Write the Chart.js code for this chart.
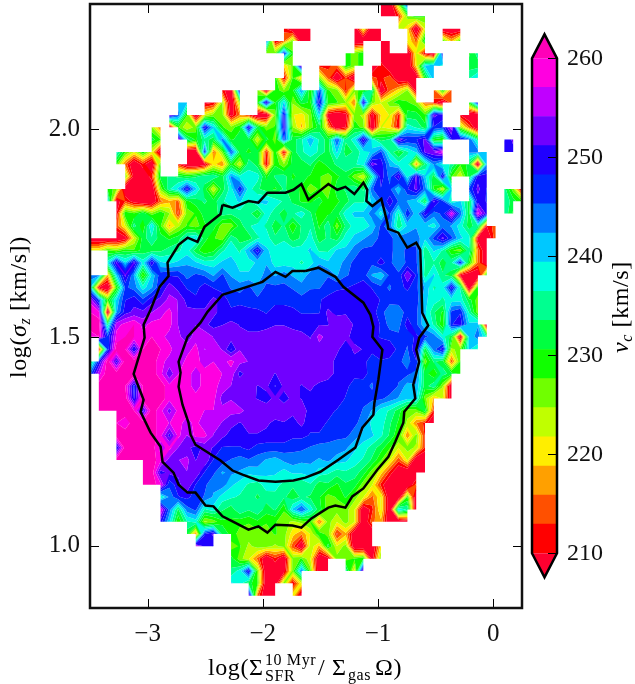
<!DOCTYPE html>
<html><head><meta charset="utf-8">
<style>html,body{margin:0;padding:0;background:#fff}#a,#b{position:absolute;top:0}#a{left:0}#b{left:525px}</style>
<script src="https://cdn.jsdelivr.net/npm/chart.js@4"></script></head>
<body><canvas id="a" width="635" height="684"></canvas><canvas id="b" width="110" height="684"></canvas>
<script>
const _=null;
const xTicks=[-3,-2,-1,0], yTicks=[1.0,1.5,2.0], cbTicks=[210,220,230,240,250,260];
const xRange=[-3.5,0.25], yRange=[0.85,2.3];
const levels=[210,212.94,215.88,218.82,221.76,224.71,227.65,230.59,233.53,236.47,239.41,242.35,245.29,248.24,251.18,254.12,257.06,260];
const bandColors=['#ff0000','#ff5000','#ffa000','#ffee00','#c0ff00','#70ff00','#10ff00','#00ff40','#00ff90','#00ffdd','#00c8ff','#0078ff','#0028ff','#2000ff','#7000ff','#c000ff','#ff00e0'];
const underColor='#ff0030', overColor='#ff00b8';
// first column index of each row, row 0 = top of the plot
const rowStart=[33,33,22,20,20,22,21,15,10,9,7,7,3,3,4,2,2,3,3,0,0,0,0,0,0,0,0,0,0,0,0,1,1,1,3,3,3,3,6,6,8,8,8,11,12,16,16,16,18];
const vc=[
[205,205,225,248],
[205,205,212,226,230,228],
[212,205,205,205,_,_,_,_,205,222,205,205,_,224,220,205,222,_,205,205,205],
[245,210,215,226,205,205,_,_,_,_,205,205,205,205,205,_,222,215,232,_,228,218,228],
[226,226,248,228,_,_,_,_,_,230,226,230,_,205,205,205,205,222,210,205,250,_,_,230,235],
[219,226,255,_,212,212,215,230,226,230,205,212,205,205,205,220,240,242,238,_,_,232,232],
[230,210,228,218,_,226,215,205,213,205,_,214,212,215,205,205,205,230,242,_,_,_,236,240],
[212,205,252,_,226,205,230,225,230,243,228,246,228,226,212,226,230,235,205,215,220,225,208,_,215,230,215],
[240,240,_,208,210,225,205,225,_,230,252,230,240,225,232,230,250,230,228,225,215,250,226,222,226,230,228,226,215,212,205,215,_,230,250],
[255,245,228,205,222,226,226,208,216,212,205,205,226,249,222,220,226,240,208,205,208,226,224,208,219,222,212,232,232,228,252,250,_,210,205,205],
[225,215,205,228,222,226,250,240,228,226,230,250,232,226,228,250,225,218,226,232,218,205,210,230,226,205,222,220,210,238,236,232,248,246,256,225,215,205],
[232,228,_,256,235,230,235,232,244,230,232,232,222,232,226,246,232,236,242,236,232,246,234,238,252,238,232,234,254,248,248,252,230,228,248,250,245,235,_,_,248,252],
[238,228,222,230,222,205,_,_,205,205,248,215,226,246,232,230,232,212,230,210,232,236,238,236,232,240,232,234,238,240,246,236,230,236,240,252,254,258,_,_,243,244,240,_,250,250],
[228,215,205,212,205,228,_,212,205,205,208,220,216,230,222,236,232,210,230,225,232,232,234,228,232,234,236,236,238,253,250,242,238,238,216,234,243,238,236,228,232,205,242],
[226,208,205,212,232,234,233,231,233,236,236,232,243,238,237,238,230,234,235,230,232,230,228,226,230,232,226,222,236,250,244,252,238,252,240,232,250,228,222,232,250,250],
[230,226,205,205,205,205,226,236,240,250,240,232,222,232,238,248,238,234,232,230,234,232,230,226,228,226,232,234,236,233,245,248,246,240,248,252,244,230,222,240,_,246,252,248,_,235,226,208],
[240,208,213,208,205,205,215,218,215,230,232,234,232,236,238,240,236,240,240,238,236,233,230,230,232,228,230,232,236,236,240,245,250,245,242,240,232,252,246,236,240,232,250,248,_,236,232,228],
[210,230,228,233,226,230,225,212,226,228,232,232,235,234,235,235,230,238,235,232,236,238,234,228,230,232,238,240,240,244,238,246,236,248,240,250,244,246,258,244,232,258,250,_,236,230],
[214,222,235,228,240,228,218,224,228,226,230,232,226,226,232,236,238,236,232,234,228,234,236,230,236,226,234,238,238,240,246,244,234,240,242,240,238,244,242,238,232,236,210,215],
[205,205,205,205,208,222,232,236,232,230,232,238,240,232,228,226,236,232,232,236,238,234,236,232,234,238,232,234,232,238,240,242,244,246,246,244,244,244,240,246,252,246,240,238,208,205,215],
[222,222,228,226,230,228,232,232,233,235,236,238,232,228,230,236,238,236,242,250,240,238,238,238,238,240,236,236,240,240,244,246,246,246,246,244,246,246,234,240,236,228,226,236,215,205],
[230,_,238,252,240,252,238,251,240,239,240,242,240,238,238,240,241,238,238,240,242,238,238,238,236,238,242,240,240,244,246,246,246,250,246,243,246,246,236,236,232,236,248,230,215,205],
[244,244,218,240,252,242,227,240,247,248,248,244,246,245,242,246,242,240,240,240,244,242,244,242,240,244,245,245,242,245,246,247,242,240,246,246,254,248,235,240,234,232,210,205,205,230],
[240,210,205,228,246,244,238,242,248,253,250,248,247,250,248,247,245,244,246,243,246,246,246,245,244,245,245,247,248,248,249,250,248,246,245,247,249,246,242,236,238,250,236,205,230],
[256,245,228,240,248,250,246,250,252,255,254,250,249,249,252,250,247,247,247,246,247,247,247,247,246,247,248,249,249,250,250,250,250,248,246,247,246,247,240,238,236,238,238,232,226],
[260,258,206,242,250,252,252,254,256,258,254,252,252,252,252,250,249,250,249,249,248,250,250,249,248,248,248,252,250,251,251,250,250,246,244,243,247,246,240,234,230,246,248,236,226],
[262,262,235,256,258,260,256,258,258,258,254,252,254,252,250,251,252,251,250,250,250,251,251,250,250,250,251,251,254,252,251,250,250,248,244,244,250,246,240,236,228,248,250,240,242,205],
[258,260,246,258,260,260,258,260,258,256,255,252,256,256,254,254,253,252,252,252,253,253,253,253,252,251,255,253,252,252,250,250,249,248,247,246,246,249,246,244,238,232,206,240,244,236],
[_,210,246,262,260,248,260,262,260,258,255,256,258,254,255,254,248,254,253,253,253,254,254,254,254,252,253,252,252,249,252,251,249,250,251,247,245,251,232,244,250,224,226,240,236],
[232,248,262,250,262,262,262,262,258,256,255,258,258,256,257,256,258,255,254,253,253,254,254,254,253,254,254,253,250,250,250,249,247,248,247,246,244,248,226,234,232,214,228],
[244,256,262,262,262,262,262,262,258,252,257,258,256,258,260,257,256,250,253,254,253,251,253,253,252,253,254,253,250,249,249,250,246,248,248,246,246,244,232,228,235,232,230],
[262,262,262,260,247,260,262,262,258,258,258,256,258,258,256,254,254,253,251,252,248,252,252,251,252,250,249,249,249,247,246,245,248,248,245,241,242,232,236,225,205],
[262,262,262,262,248,262,262,262,258,258,258,258,258,258,253,254,252,252,251,250,252,250,252,251,250,250,250,250,248,247,246,246,246,244,242,240,240,226,218,222,206],
[262,262,262,262,260,250,262,258,253,258,258,258,257,257,255,255,255,253,254,253,254,253,252,254,249,249,249,248,247,247,245,242,238,236,232,226,226,232,212],
[260,258,262,262,262,258,257,258,256,258,255,255,254,252,251,252,252,252,250,251,250,252,249,249,248,248,247,246,244,238,238,234,230,224,216,212,205],
[262,262,262,262,262,258,250,258,254,258,258,254,252,250,250,251,251,250,250,250,249,249,248,248,247,246,246,244,241,240,237,233,228,216,226,212],
[248,262,262,262,262,256,258,254,252,250,252,251,248,248,248,249,247,247,247,247,246,246,245,244,244,244,243,240,238,235,232,228,222,226,224,212],
[262,262,262,262,262,258,253,254,255,251,254,248,247,245,244,245,244,242,241,243,244,243,243,242,243,241,240,238,236,233,228,222,214,222,205,205],
[262,262,250,252,252,254,254,248,246,242,243,242,240,241,240,240,238,240,240,241,238,237,235,236,235,232,226,220,212,205,205,205,205],
[262,262,258,246,250,254,248,246,243,244,240,238,236,235,238,237,236,234,234,236,232,233,230,233,232,226,222,212,205,205,205,214],
[236,243,248,249,247,245,242,238,237,236,235,233,235,236,234,232,234,233,231,226,228,231,226,222,215,222,205,205,228,205],
[258,244,233,244,246,236,238,234,232,236,234,236,232,234,228,240,246,238,232,226,226,226,222,205,212,222,205,240,236,205],
[250,240,228,236,238,224,226,230,230,229,228,230,228,228,226,224,226,228,215,226,222,226,222,205,215,218,205,205,208],
[232,215,248,252,232,230,226,226,226,226,228,226,220,216,222,230,226,212,218,205,205,205],
[258,250,248,_,226,228,224,226,226,224,226,214,205,224,218,232,222,226,205,205,205,220],
[232,226,222,215,205,212,205,226,228,222,205,208,226,226,228,230,208,226],
[234,238,250,226,205,205,208,226,244,226,205,205,_,236,220,256],
[240,238,232,228,205,205,226,210,222],
[255,215,205,205,_,222,205]
];
const outerX=[-2.35,-2.263,-2.124,-2.038,-1.96,-1.803,-1.734,-1.665,-1.604,-1.517,-1.431,-1.353,-1.283,-1.205,-1.127,-1.093,-1.101,-1.049,-0.971,-0.919,-0.91,-0.824,-0.746,-0.668,-0.633,-0.616,-0.564,-0.642,-0.668,-0.642,-0.694,-0.676,-0.772,-0.78,-0.85,-0.91,-1.006,-1.127,-1.223,-1.283,-1.37,-1.431,-1.578,-1.665,-1.743,-1.89,-1.96,-2.038,-2.124,-2.263,-2.35,-2.428,-2.497,-2.584,-2.653,-2.731,-2.775,-2.87,-2.887,-2.974,-3.061,-3.035,-3.121,-3.026,-3.035,-2.974,-2.896,-2.818,-2.827,-2.731,-2.653,-2.567,-2.506,-2.367,-2.35];
const outerY=[1.818,1.811,1.827,1.823,1.847,1.847,1.854,1.868,1.83,1.849,1.868,1.854,1.861,1.844,1.871,1.854,1.827,1.815,1.832,1.775,1.76,1.751,1.715,1.727,1.71,1.559,1.528,1.499,1.47,1.441,1.386,1.353,1.321,1.295,1.249,1.213,1.182,1.137,1.118,1.091,1.096,1.091,1.065,1.043,1.048,1.05,1.031,1.046,1.038,1.058,1.07,1.094,1.096,1.127,1.127,1.146,1.175,1.201,1.237,1.271,1.321,1.35,1.412,1.499,1.53,1.566,1.621,1.647,1.679,1.722,1.739,1.729,1.765,1.796,1.818];
const innerX=[-1.63,-1.517,-1.37,-1.301,-1.127,-1.066,-1.04,-1.049,-0.962,-0.997,-1.032,-1.04,-1.136,-1.197,-1.344,-1.5,-1.63,-1.734,-1.89,-2.038,-2.176,-2.263,-2.367,-2.584,-2.627,-2.645,-2.697,-2.731,-2.714,-2.731,-2.653,-2.541,-2.48,-2.35,-2.003,-1.89,-1.803,-1.743,-1.63];
const innerY=[1.659,1.667,1.645,1.621,1.583,1.554,1.525,1.501,1.47,1.398,1.341,1.314,1.283,1.235,1.206,1.177,1.163,1.156,1.153,1.156,1.17,1.18,1.204,1.242,1.266,1.295,1.338,1.381,1.415,1.441,1.501,1.535,1.561,1.602,1.633,1.657,1.645,1.659,1.659];

const SERIF='"Liberation Serif","DejaVu Serif",serif';
const nCols=50,nRows=50;
function node(k,i){const r=vc[k];if(!r)return null;const j=i-rowStart[k];if(j<0||j>=r.length)return null;return r[j];}
function clip(poly,limit,keepAbove){
  const out=[];
  for(let n=0;n<poly.length;n++){
    const a=poly[n],b=poly[(n+1)%poly.length];
    const ia=keepAbove?a[2]>=limit:a[2]<=limit, ib=keepAbove?b[2]>=limit:b[2]<=limit;
    if(ia)out.push(a);
    if(ia!==ib){const t=(limit-a[2])/(b[2]-a[2]);out.push([a[0]+t*(b[0]-a[0]),a[1]+t*(b[1]-a[1]),limit]);}
  }
  return out;
}
const contourPlugin={id:'contour',beforeDatasetsDraw(c){
  const ctx=c.ctx,X=c.scales.x,Y=c.scales.y,A=c.chartArea;
  const px=i=>X.getPixelForValue(xRange[0]+i*(xRange[1]-xRange[0])/(nCols-1));
  const py=k=>Y.getPixelForValue(yRange[1]-k*(yRange[1]-yRange[0])/(nRows-1));
  const lows=[-1e9,...levels],highs=[...levels,1e9],cols=[underColor,...bandColors,overColor];
  ctx.save();ctx.beginPath();ctx.rect(A.left,A.top,A.right-A.left,A.bottom-A.top);ctx.clip();
  for(let b=0;b<cols.length;b++){
    ctx.beginPath();
    for(let k=0;k<nRows-1;k++)for(let i=0;i<nCols-1;i++){
      const v=[node(k,i),node(k,i+1),node(k+1,i+1),node(k+1,i)];
      if(v.some(q=>q===null||q===undefined))continue;
      let p=[[px(i),py(k),v[0]],[px(i+1),py(k),v[1]],[px(i+1),py(k+1),v[2]],[px(i),py(k+1),v[3]]];
      p=clip(p,lows[b],true);if(p.length<3)continue;
      p=clip(p,highs[b],false);if(p.length<3)continue;
      ctx.moveTo(p[0][0],p[0][1]);for(let n=1;n<p.length;n++)ctx.lineTo(p[n][0],p[n][1]);ctx.closePath();
    }
    ctx.fillStyle=cols[b];ctx.fill();
  }
  ctx.restore();
}};
function runs(ctx,x,y,parts){ // parts: [text,size,dy,italic]
  for(const [t,s,dy,it] of parts){ctx.font=(it?'italic ':'')+s+'px '+SERIF;ctx.fillText(t,x,y+dy);x+=ctx.measureText(t).width;}
  return x;
}
const noPad=s=>{s.paddingTop=0;s.paddingBottom=0;s.paddingLeft=0;s.paddingRight=0;};
const framePlugin={id:'frame',afterDatasetsDraw(c){
  const ctx=c.ctx,X=c.scales.x,Y=c.scales.y,A=c.chartArea;
  ctx.save();ctx.strokeStyle='#000';ctx.lineWidth=1;ctx.beginPath();
  xTicks.forEach(t=>{const p=Math.round(X.getPixelForValue(t))+.5;ctx.moveTo(p,A.top);ctx.lineTo(p,A.top+9);ctx.moveTo(p,A.bottom);ctx.lineTo(p,A.bottom-9);});
  yTicks.forEach(t=>{const p=Math.round(Y.getPixelForValue(t))+.5;ctx.moveTo(A.left,p);ctx.lineTo(A.left+9,p);ctx.moveTo(A.right,p);ctx.lineTo(A.right-9,p);});
  ctx.stroke();
  ctx.lineWidth=2.5;ctx.strokeStyle='#111';ctx.strokeRect(A.left,A.top,A.right-A.left,A.bottom-A.top);
  ctx.fillStyle='#000';ctx.textBaseline='alphabetic';ctx.textAlign='left';
  ctx.letterSpacing='0.6px';
  const y=675;
  runs(ctx,208,y,[['log(Σ',24,0]]);
  runs(ctx,265,y,[['10 Myr',16,-10]]);
  runs(ctx,265,y,[['SFR',16,6]]);
  runs(ctx,318,y,[['/',24,0]]);
  runs(ctx,332,y,[['Σ',24,0]]);
  runs(ctx,348,y,[['gas',16,5]]);
  runs(ctx,375,y,[['Ω)',24,0]]);
  ctx.translate(26,378);ctx.rotate(-Math.PI/2);
  runs(ctx,0,0,[['log(',24,0],['σ',24,0,true],['z',16,4,true],[' [km/s])',24,0]]);
  ctx.restore();
}};
new Chart(document.getElementById('a'),{type:'scatter',
  data:{datasets:[
    {data:outerX.map((x,i)=>({x,y:outerY[i]})),showLine:true,borderColor:'#000',borderWidth:2.5,pointRadius:0,tension:0,fill:false},
    {data:innerX.map((x,i)=>({x,y:innerY[i]})),showLine:true,borderColor:'#000',borderWidth:2.5,pointRadius:0,tension:0,fill:false}
  ]},
  options:{responsive:false,animation:false,devicePixelRatio:1,
    layout:{autoPadding:false,padding:{left:0,right:113,top:4,bottom:0}},
    plugins:{legend:{display:false},tooltip:{enabled:false}},
    scales:{
      x:{type:'linear',min:xRange[0],max:xRange[1],grid:{display:false,drawTicks:false},border:{display:false},
        afterBuildTicks:s=>{s.ticks=xTicks.map(value=>({value}))},
        afterFit:s=>{s.height=76;noPad(s)},
        ticks:{autoSkip:false,maxRotation:0,padding:11,color:'#111',font:{family:SERIF,size:25},callback:v=>(v<0?'−':'')+Math.abs(v)}},
      y:{type:'linear',min:yRange[0],max:yRange[1],grid:{display:false,drawTicks:false},border:{display:false},
        afterBuildTicks:s=>{s.ticks=yTicks.map(value=>({value}))},
        afterFit:s=>{s.width=90;noPad(s)},
        ticks:{autoSkip:false,padding:10,color:'#111',font:{family:SERIF,size:25},callback:v=>v.toFixed(1)}}
    }},
  plugins:[contourPlugin,framePlugin]});

const cbPlugin={id:'cb',afterDatasetsDraw(c){
  const ctx=c.ctx,Y=c.scales.y,A=c.chartArea,mid=(A.left+A.right)/2;
  ctx.save();
  const top=Y.getPixelForValue(levels[levels.length-1]),bot=Y.getPixelForValue(levels[0]);
  ctx.lineJoin='miter';
  ctx.beginPath();ctx.moveTo(A.left,top);ctx.lineTo(mid,top-24);ctx.lineTo(A.right,top);ctx.closePath();ctx.fillStyle=overColor;ctx.fill();
  ctx.beginPath();ctx.moveTo(A.left,bot);ctx.lineTo(mid,bot+24);ctx.lineTo(A.right,bot);ctx.closePath();ctx.fillStyle=underColor;ctx.fill();
  ctx.strokeStyle='#000';ctx.lineWidth=1;ctx.beginPath();
  cbTicks.forEach(t=>{const p=Math.round(Y.getPixelForValue(t))+.5;ctx.moveTo(A.right,p);ctx.lineTo(A.right-9,p);});ctx.stroke();
  ctx.lineWidth=2.5;ctx.beginPath();ctx.moveTo(A.left,bot);ctx.lineTo(A.left,top);ctx.lineTo(mid,top-24);ctx.lineTo(A.right,top);ctx.lineTo(A.right,bot);ctx.lineTo(mid,bot+24);ctx.closePath();ctx.stroke();
  ctx.fillStyle='#000';ctx.textAlign='left';ctx.textBaseline='alphabetic';
  ctx.letterSpacing='0.6px';
  ctx.translate(103,353);ctx.rotate(-Math.PI/2);
  runs(ctx,0,0,[['v',24,0,true],['c',16,4,true],[' [km/s]',24,0]]);
  ctx.restore();
}};
new Chart(document.getElementById('b'),{type:'bar',
  data:{labels:['vc'],datasets:bandColors.map((col,i)=>({data:[[levels[i],levels[i+1]]],backgroundColor:col,borderWidth:0,barPercentage:1,categoryPercentage:1,grouped:false}))},
  options:{responsive:false,animation:false,devicePixelRatio:1,
    layout:{autoPadding:false,padding:{left:7,right:0,top:58.3,bottom:130.7}},
    plugins:{legend:{display:false},tooltip:{enabled:false}},
    scales:{
      x:{display:false},
      y:{position:'right',type:'linear',min:210,max:260,grid:{display:false,drawTicks:false},border:{display:false},
        afterBuildTicks:s=>{s.ticks=cbTicks.map(value=>({value}))},
        afterFit:s=>{s.width=78;noPad(s)},
        ticks:{autoSkip:false,padding:10,color:'#111',font:{family:SERIF,size:24}}}
    }},
  plugins:[cbPlugin]});
</script></body></html>
